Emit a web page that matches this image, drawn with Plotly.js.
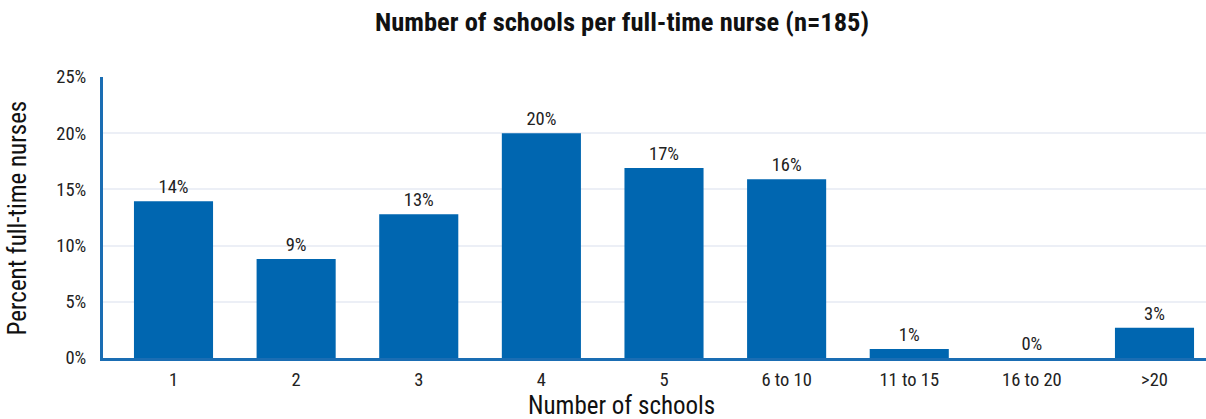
<!DOCTYPE html>
<html>
<head>
<meta charset="utf-8">
<script src="https://cdn.plot.ly/plotly-3.0.1.min.js"></script>
<style>
html,body{margin:0;padding:0;background:#fff;}
#chart{width:1206px;height:419px;}
</style>
</head>
<body>
<div id="chart"></div>
<script>
var categories = ["1", "2", "3", "4", "5", "6 to 10", "11 to 15", "16 to 20", ">20"];
var percentValues = [13.95, 8.8, 12.8, 20.0, 16.9, 15.9, 0.8, 0.0, 2.7];
var barLabels = ["14%", "9%", "13%", "20%", "17%", "16%", "1%", "0%", "3%"];
var yTickValues = [0, 5, 10, 15, 20, 25];
var yTickLabels = ["0%", "5%", "10%", "15%", "20%", "25%"];

var FONT = '"Liberation Sans Narrow", "Arial Narrow", "Roboto Condensed", "DejaVu Sans Condensed", sans-serif';

var trace = {
  type: 'bar',
  x: categories,
  y: percentValues,
  text: barLabels,
  textposition: 'outside',
  cliponaxis: false,
  textfont: {family: FONT, size: 18.5, color: '#222'},
  marker: {color: '#0066b0'},
  hoverinfo: 'none'
};

var layout = {
  width: 1206,
  height: 419,
  margin: {l: 103, r: 0, t: 77, b: 61},
  paper_bgcolor: '#fff',
  plot_bgcolor: '#fff',
  font: {family: FONT, color: '#222'},
  bargap: 0.355,
  showlegend: false,
  title: {
    text: '<b>Number of schools per full-time nurse (n=185)</b>',
    font: {family: FONT, size: 26.5, color: '#111'},
    xref: 'container', x: 0.5158, xanchor: 'center',
    yref: 'container', y: 0.9475, yanchor: 'middle'
  },
  xaxis: {
    type: 'category',
    range: [-0.575, 8.42],
    showgrid: false,
    showline: true,
    linecolor: '#1a6db3',
    linewidth: 3,
    ticks: '',
    tickfont: {family: FONT, size: 18.5, color: '#222'},
    ticklabelstandoff: 3,
    zeroline: false
  },
  yaxis: {
    range: [0, 25],
    tickvals: yTickValues,
    ticktext: yTickLabels,
    showgrid: true,
    gridcolor: '#eceff6',
    gridwidth: 2,
    showline: true,
    linecolor: '#1a6db3',
    linewidth: 3,
    ticks: '',
    ticklabelstandoff: 10,
    tickfont: {family: FONT, size: 18.5, color: '#222'},
    zeroline: false
  },
  annotations: [
    {text: 'Number of schools', xref: 'paper', yref: 'paper', x: 0.4705, y: -0.1708,
     xanchor: 'center', yanchor: 'middle', showarrow: false,
     font: {family: FONT, size: 25, color: '#111'}},
    {text: 'Percent full-time nurses', xref: 'paper', yref: 'paper', x: -0.0771, y: 0.5,
     xanchor: 'center', yanchor: 'middle', showarrow: false, textangle: -90,
     font: {family: FONT, size: 25, color: '#111'}}
  ]
};

Plotly.newPlot('chart', [trace], layout, {staticPlot: true, displayModeBar: false});
</script>
</body>
</html>
